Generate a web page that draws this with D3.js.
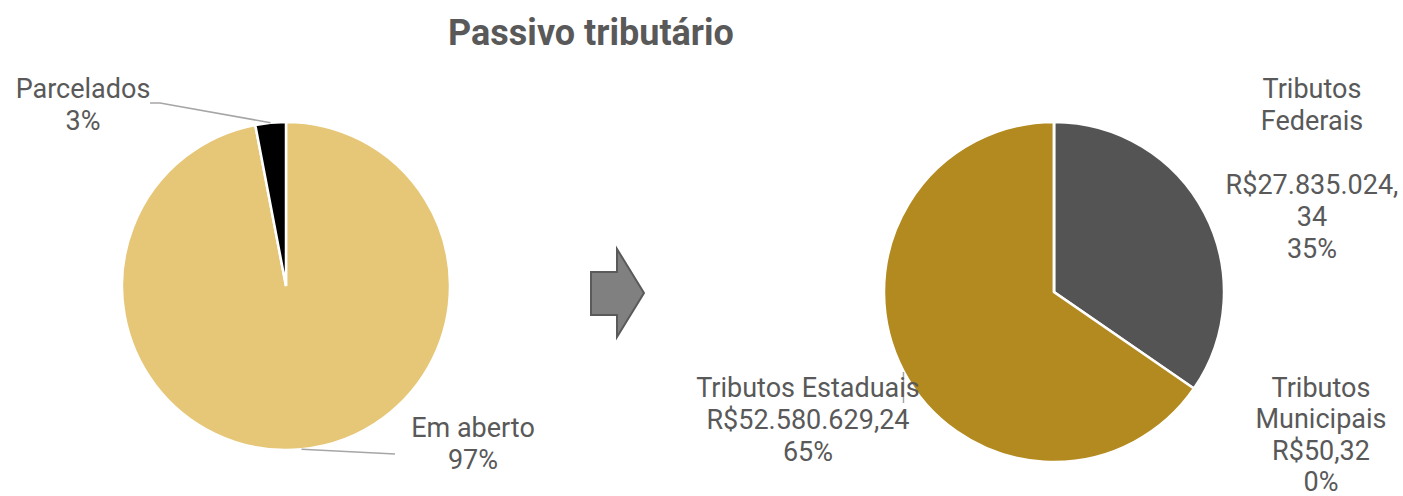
<!DOCTYPE html>
<html>
<head>
<meta charset="utf-8">
<script src="https://cdn.jsdelivr.net/npm/d3@7"></script>
<style>
  body { margin: 0; background: #fff; }
  text { font-family: Roboto, "Noto Sans", sans-serif; fill: #595959; }
</style>
</head>
<body>
<svg id="chart"></svg>
<script>
// left pie: situação do passivo
var situacaoLabels = ["Em aberto", "Parcelados"];
var situacaoValues = [97, 3];
var situacaoColors = ["#E6C677", "#000000"];

// right pie: por esfera
var esferaLabels = [["Tributos", "Federais", "", "R$27.835.024,", "34", "35%"],
                    ["Tributos Estaduais", "R$52.580.629,24", "65%"],
                    ["Tributos", "Municipais", "R$50,32", "0%"]];
var esferaValues = [27835024.34, 52580629.24, 50.32];
var esferaColors = ["#545454", "#B38A20", "#7F7F7F"];

var width = 1403, height = 496;
var svg = d3.select("#chart").attr("width", width).attr("height", height);

svg.append("text")
  .attr("x", 591).attr("y", 45)
  .attr("text-anchor", "middle")
  .style("font-size", "36px").style("font-weight", "bold")
  .text("Passivo tributário");

var pie = d3.pie().sort(null).value(function(d) { return d; });

function drawPie(values, colors, cx, cy, r) {
  var g = svg.append("g").attr("transform", "translate(" + cx + "," + cy + ")");
  var arc = d3.arc().innerRadius(0).outerRadius(r);
  var arcs = pie(values);
  g.selectAll("path")
    .data(arcs)
   .enter().append("path")
    .attr("d", arc)
    .style("fill", function(d, i) { return colors[i]; })
    .style("stroke", "#fff")
    .style("stroke-width", 2.5);
  return arcs;
}

// point on outer edge at middle of slice
function edge(a, cx, cy, r) {
  var m = (a.startAngle + a.endAngle) / 2;
  return [cx + r * Math.sin(m), cy - r * Math.cos(m)];
}

var L = {cx: 286, cy: 286, r: 164};
var R = {cx: 1054, cy: 292, r: 170};
var leftArcs = drawPie(situacaoValues, situacaoColors, L.cx, L.cy, L.r);
var rightArcs = drawPie(esferaValues, esferaColors, R.cx, R.cy, R.r);

var lines = svg.append("g")
  .style("fill", "none").style("stroke", "#A6A6A6").style("stroke-width", 1.5);

// leader lines
var p0 = edge(leftArcs[0], L.cx, L.cy, L.r);
lines.append("path").attr("d", d3.line()([p0, [395, 454]]));
var p1 = edge(leftArcs[1], L.cx, L.cy, L.r);
lines.append("path").attr("d", d3.line()([p1, [160, 103], [150, 103]]));
var p2 = edge(rightArcs[1], R.cx, R.cy, R.r);
lines.append("path").attr("d", d3.line()([[p2[0], 372], [p2[0], 403]]));

function label(lines, x, y0, step) {
  var t = svg.append("text")
    .attr("text-anchor", "middle")
    .style("font-size", "27px");
  lines.forEach(function(s, i) {
    t.append("tspan").attr("x", x).attr("y", y0 + i * (step || 32)).text(s);
  });
}

label([situacaoLabels[1], "3%"], 83, 98);
label([situacaoLabels[0], "97%"], 473, 437);
label(esferaLabels[0], 1312, 98);
label(esferaLabels[1], 808, 397);
label(esferaLabels[2], 1321, 397, 31.3);

// seta entre os dois gráficos
var arrow = [[591, 272], [617, 272], [617, 249], [644, 293], [617, 337], [617, 315], [591, 315]];
svg.append("path")
  .attr("d", d3.line()(arrow) + "Z")
  .style("fill", "#808080")
  .style("stroke", "#5A5A5A")
  .style("stroke-width", 2);
</script>
</body>
</html>
